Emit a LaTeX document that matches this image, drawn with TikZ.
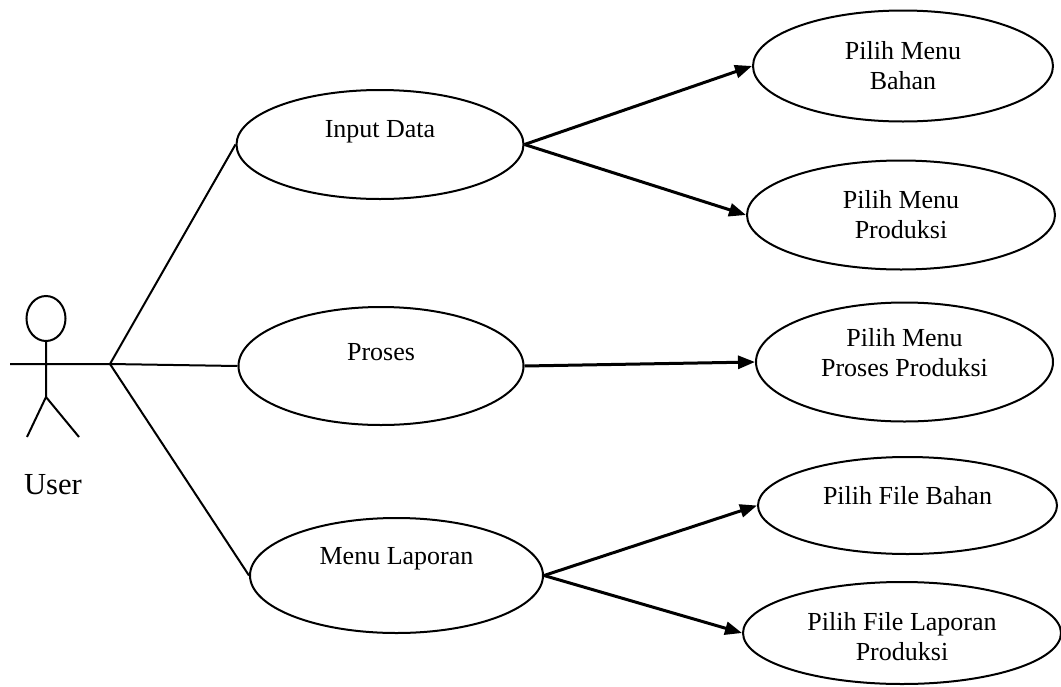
\documentclass[tikz,border=0pt]{standalone}
\usepackage{fontspec}
\setmainfont{Liberation Serif}
\usepackage{tikz}
\usetikzlibrary{arrows.meta,positioning,shapes.geometric,calc}
\tikzset{>={Triangle[length=8.5pt,width=6.5pt]}, usecase/.style={ellipse, draw, line width=1pt, inner sep=0pt}}

\begin{document}
\begin{tikzpicture}[x=0.5pt, y=-0.5pt, font=\fontsize{13}{15}\selectfont]
    \useasboundingbox (0,0) rectangle (1061,686);
    % actor
    \node[usecase, minimum width=19.5pt, minimum height=22.5pt] (head) at (46,318.5) {};
    \coordinate (hip) at (46,397);
    \coordinate (hand) at (10,364);
    \coordinate (joint) at (110,364);
    \coordinate (lfoot) at (27,437);
    \coordinate (rfoot) at (79,437);
    \draw[line width=1pt] (head.south) -- (hip) (hand) -- (joint) (lfoot) -- (hip) -- (rfoot);
    \node[font=\fontsize{15.3}{18}\selectfont] (user) at (53,485) {User};
    % use cases
    \foreach \uc/\pos/\w/\h/\dy/\txt in {
        input/{380,144.5}/143.5/54.5/6.5/{Input Data},
        proses/{381,366}/142.5/59/7/{Proses},
        laporan/{396.5,575.5}/146.5/57.5/8.5/{Menu Laporan},
        bahan/{903,66}/150/55.5/0/{Pilih Menu\\Bahan},
        produksi/{901,215}/154/54.5/0/{Pilih Menu\\Produksi},
        pprod/{904.5,362}/148.5/59.5/4.5/{Pilih Menu\\Proses Produksi},
        fbahan/{907.5,505.5}/149.5/48.5/5/{Pilih File Bahan},
        flaporan/{902,633}/159/51/-2/{Pilih File Laporan\\Produksi}} {
        \node[usecase, minimum width=\w pt, minimum height=\h pt] (\uc) at (\pos) {};
        \node[align=center] (\uc-t) at ([yshift=\dy pt]\uc.center) {\txt};
    }
    \draw[line width=1pt] (joint) -- (input.west);
    \draw[line width=1pt] (joint) -- (proses.west);
    \draw[line width=1pt] (joint) -- (laporan.west);
    \draw[->, line width=1.5pt] (input.east) -- (bahan.west);
    \draw[->, line width=1.5pt] (input.east) -- (produksi.west);
    \draw[->, line width=1.5pt] (proses.east) -- (pprod.west);
    \draw[->, line width=1.5pt] (laporan.east) -- (fbahan.west);
    \draw[->, line width=1.5pt] (laporan.east) -- (flaporan.west);
\end{tikzpicture}
\end{document}
